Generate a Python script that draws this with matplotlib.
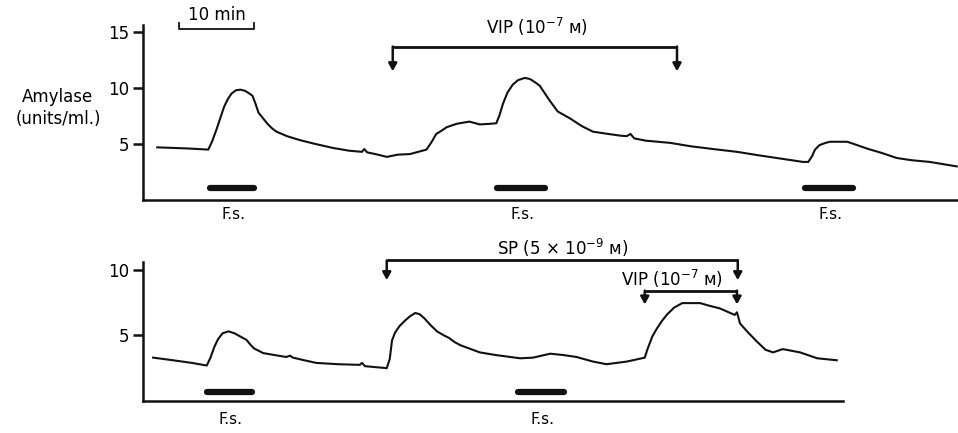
import matplotlib
matplotlib.use("Agg")
import matplotlib.pyplot as plt

# ------------------------------------
# DATA (time in min, amylase in units/ml)
# ------------------------------------
top_t = [1.9, 4, 6, 8.7, 9.2, 9.8, 10.3, 10.8, 11.3, 11.8, 12.4, 13.0, 13.6, 14.2, 14.6,
         15.0, 15.4, 16.0, 16.6, 17.2, 17.8, 19.2, 20.9, 23, 25.3, 27.5, 29.2, 29.5, 29.9,
         31, 32.5, 34, 35.6, 37.8, 38.5, 39.1, 39.6, 40.5, 41.8, 43.5, 44.9, 46.2, 47.1,
         47.5, 48, 48.6, 49.3, 50.0, 50.9, 51.6, 52.3, 52.9, 53.5, 54.2, 55.3, 56.9,
         58.5, 60, 62, 63.6, 64.5, 65, 65.5, 67, 70.3, 73, 76, 79.2, 82, 85, 88, 88.7,
         89.2, 89.6, 90.2, 91.0, 91.6, 93.9, 95.0, 96.5, 98.5, 100.5, 102.5, 104.9, 108.5]
top_v = [4.7, 4.65, 4.6, 4.5, 5.2, 6.3, 7.3, 8.3, 9.0, 9.5, 9.8, 9.85, 9.75, 9.5, 9.3,
         8.6, 7.8, 7.3, 6.8, 6.4, 6.1, 5.7, 5.35, 5.0, 4.65, 4.4, 4.3, 4.55, 4.25,
         4.1, 3.85, 4.05, 4.1, 4.5, 5.2, 5.9, 6.1, 6.5, 6.8, 7.0, 6.75, 6.8, 6.85,
         7.5, 8.6, 9.6, 10.3, 10.7, 10.9, 10.8, 10.5, 10.2, 9.6, 8.9, 7.9, 7.3,
         6.6, 6.1, 5.9, 5.75, 5.7, 5.9, 5.5, 5.3, 5.1, 4.8, 4.55, 4.3, 4.0, 3.7, 3.4, 3.4,
         3.9, 4.5, 4.9, 5.1, 5.2, 5.2, 4.95, 4.6, 4.2, 3.75, 3.55, 3.4, 3.0]

bot_t = [1.35, 4, 6.5, 8.5, 9.0, 9.5, 10.0, 10.6, 11.4, 12.2, 13.0, 13.8, 14.3, 14.8,
         15.5, 16, 17.5, 19.1, 19.6, 20, 21.5, 23.1, 26, 28.9, 29.2, 29.6, 32.5, 32.9,
         33.2, 33.6, 34.2, 34.9, 35.6, 36.3, 36.9, 37.5, 38.3, 39.2, 40.1, 40.8, 41.5,
         42.3, 44.9, 47, 50.3, 52, 54.3, 56, 57.8, 60, 61.8, 64.5, 66.9, 67.3, 67.9,
         68.5, 69.2, 69.9, 70.8, 71.9, 74.3, 75.5, 76.9, 78.9, 79.2, 79.6, 80.7, 81.9,
         83, 84, 85.3, 87.6, 89.9, 92.5]
bot_v = [3.3, 3.1, 2.9, 2.7, 3.3, 4.1, 4.7, 5.15, 5.3, 5.15, 4.9, 4.65, 4.3, 4.0,
         3.8, 3.65, 3.5, 3.35, 3.45, 3.3, 3.1, 2.9, 2.8, 2.75, 2.9, 2.65, 2.5, 3.2,
         4.6, 5.2, 5.7, 6.1, 6.45, 6.7, 6.6, 6.3, 5.8, 5.3, 5.0, 4.8, 4.5,
         4.25, 3.7, 3.5, 3.25, 3.3, 3.6, 3.5, 3.35, 3.0, 2.8, 3.0, 3.3, 4.0, 4.9,
         5.5, 6.1, 6.6, 7.1, 7.45, 7.45, 7.25, 7.05, 6.55, 6.75, 5.9, 5.2, 4.5,
         3.9, 3.7, 3.95, 3.7, 3.25, 3.1]

# field stimulation periods (start, end)
top_fs = [(8.9, 14.8), (47.2, 53.6), (88.3, 94.7)]
bot_fs = [(8.5, 14.5), (50.0, 56.1)]

top_ticks = [5, 10, 15]
bot_ticks = [5, 10]

# ------------------------------------
# LAYOUT
# ------------------------------------
W, H = 958, 433
X0 = 143
PX_MIN = 7.5          # px per minute
TOP_PX_UNIT = 11.2
BOT_PX_UNIT = 13.14
XMAX = (W - X0) / PX_MIN

LW = 1.5
BLACK = "#111111"
FS = 12
SM = "\u1d0d"  # small capital M


def style_axis(ax, ticks, ymax_spine, xmax_spine):
    for s in ["top", "right"]:
        ax.spines[s].set_visible(False)
    for s in ["left", "bottom"]:
        ax.spines[s].set_linewidth(1.8)
        ax.spines[s].set_color(BLACK)
    ax.spines["left"].set_bounds(0, ymax_spine)
    ax.spines["bottom"].set_bounds(0, xmax_spine)
    ax.set_yticks(ticks)
    ax.set_yticklabels([str(t) for t in ticks], fontsize=FS)
    ax.tick_params(axis="y", length=7, width=1.8, color=BLACK, pad=3)
    ax.set_xticks([])
    ax.set_xlim(0, XMAX)


def bracket(ax, x1, x2, y_line, y_tip):
    ax.plot([x1, x2], [y_line, y_line], color=BLACK, lw=2, solid_capstyle="butt",
            clip_on=False)
    for x in (x1, x2):
        ax.annotate("", xy=(x, y_tip), xytext=(x, y_line), annotation_clip=False,
                    arrowprops=dict(arrowstyle="-|>,head_width=0.25,head_length=0.45",
                                    color=BLACK, lw=1.8, shrinkA=0, shrinkB=0))


fig = plt.figure(figsize=(W / 100, H / 100), dpi=100)

# ------------------------------------
# TOP PANEL
# ------------------------------------
ax1 = fig.add_axes([X0 / W, (H - 200) / H, (W - X0) / W, 200 / H])
ax1.set_ylim(0, 200 / TOP_PX_UNIT)
style_axis(ax1, top_ticks, 15.6, XMAX)
ax1.plot(top_t, top_v, color=BLACK, lw=LW, clip_on=False, solid_joinstyle="round")
for a, b in top_fs:
    ax1.plot([a, b], [1.1, 1.1], color=BLACK, lw=4.5, solid_capstyle="round")
    ax1.text((a + b) / 2 + 0.2, -1.3, "F.s.", ha="center", va="center", fontsize=11,
             clip_on=False)

# scale bar
ax1.plot([4.8, 4.8, 14.8, 14.8], [15.8, 15.25, 15.25, 15.8], color=BLACK, lw=1.3,
         clip_on=False)
ax1.text(9.8, 16.55, "10 min", ha="center", va="center", fontsize=FS, clip_on=False)

bracket(ax1, 33.3, 71.2, 13.7, 11.5)
ax1.text(52.5, 15.45, "VIP (10$^{-7}$ " + SM + ")", ha="center", va="center",
         fontsize=FS, clip_on=False)

fig.text(58 / W, 1 - 108 / H, "Amylase\n(units/ml.)", ha="center", va="center",
         fontsize=FS, linespacing=1.3)

# ------------------------------------
# BOTTOM PANEL
# ------------------------------------
ax2 = fig.add_axes([X0 / W, (H - 401) / H, (W - X0) / W, 161 / H])
ax2.set_ylim(0, 161 / BOT_PX_UNIT)
style_axis(ax2, bot_ticks, 10.6, 93.3)
ax2.plot(bot_t, bot_v, color=BLACK, lw=LW, clip_on=False, solid_joinstyle="round")
for a, b in bot_fs:
    ax2.plot([a, b], [0.7, 0.7], color=BLACK, lw=4.5, solid_capstyle="round")
    ax2.text((a + b) / 2 + 0.2, -1.4, "F.s.", ha="center", va="center", fontsize=11,
             clip_on=False)

bracket(ax2, 32.5, 79.3, 10.7, 9.2)
ax2.text(56.0, 11.65, "SP (5 \u00d7 10$^{-9}$ " + SM + ")", ha="center", va="center",
         fontsize=FS, clip_on=False)
bracket(ax2, 66.9, 79.2, 8.4, 7.35)
ax2.text(70.5, 9.3, "VIP (10$^{-7}$ " + SM + ")", ha="center", va="center",
         fontsize=FS, clip_on=False)

fig.savefig("out.png", dpi=100)
